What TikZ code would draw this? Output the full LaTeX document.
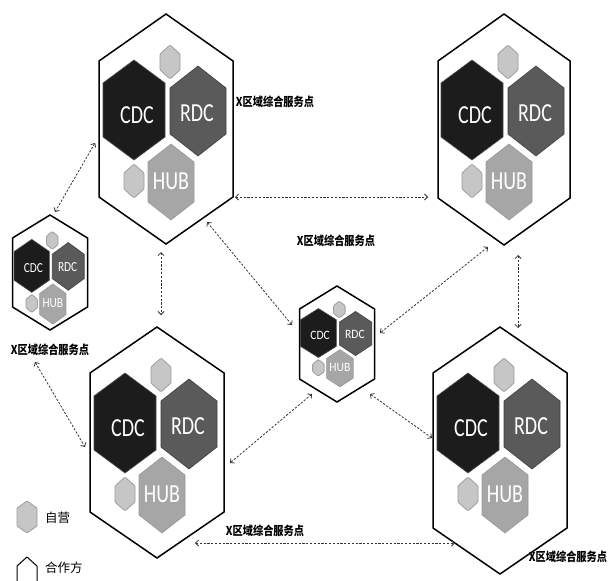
\documentclass[tikz,border=0pt]{standalone}
\usepackage{fontspec}
\setmainfont{Carlito}
\newfontfamily\cjk{Noto Sans CJK SC}
\usetikzlibrary{arrows.meta}
\definecolor{cdcc}{HTML}{1C1C1C}
\definecolor{rdcc}{HTML}{5A5A5A}
\definecolor{hubc}{HTML}{A6A6A6}
\definecolor{ownc}{HTML}{C6C6C6}
\tikzset{
  outerhex/.style={draw=black,line width=1.5pt,line join=miter,fill=white},
  cdchex/.style={fill=cdcc,draw=black!70,line width=0.6pt},
  rdchex/.style={fill=rdcc,draw=black!75,line width=0.6pt},
  hubhex/.style={fill=hubc,draw=black!40,line width=0.6pt},
  ownhex/.style={fill=ownc,draw=black!38,line width=0.8pt,rounded corners=1pt},
  hextext/.style={text=white,font=\fontsize{20}{20}\selectfont,yscale=1.3,transform shape,inner sep=0pt},
  zlabel/.style={font=\cjk\bfseries\fontsize{10.2}{12}\selectfont,yscale=1.2,inner sep=0pt},
  legtext/.style={font=\cjk\fontsize{12.5}{14}\selectfont,inner sep=0pt},
  link/.style={draw=black!80,line width=0.8pt,dash pattern=on 2.2pt off 1.6pt,
    {Straight Barb[length=3pt,width=6pt]}-{Straight Barb[length=3pt,width=6pt]}},
}
% inner hexagon: style, cx, cy, half width, half side, half height
\newcommand\ihex[6]{\path[#1,shift={(#2,#3)}] (0,-#6) -- (#4,-#5) -- (#4,#5) -- (0,#6) -- (-#4,#5) -- (-#4,-#5) -- cycle;}
% group: name, top x, top y, half width, shoulder, height, xscale, yscale
\newcommand\hexgrp[8]{%
  \begin{scope}[shift={(#2,#3)}]
    \path[outerhex] (0,0) -- (#4,#5) -- (#4,{#6-#5}) -- (0,#6) -- (-#4,{#6-#5}) -- (-#4,#5) -- cycle;
    \begin{scope}[xscale=#7,yscale=#8]
      \ihex{cdchex}{-32}{96}{31}{27}{50}
      \ihex{rdchex}{32}{97}{28}{23}{45}
      \ihex{hubhex}{5}{168}{23}{20}{38}
      \ihex{ownhex}{4}{48}{10}{8}{17}
      \ihex{ownhex}{-32}{167}{10}{8}{17}
      \node[hextext] (#1cdc) at (-29,101) {CDC};
      \node[hextext] (#1rdc) at (31,99) {RDC};
      \node[hextext] (#1hub) at (5,167) {HUB};
    \end{scope}
  \end{scope}}
\begin{document}
\begin{tikzpicture}[x=1pt,y=-1pt]
\useasboundingbox (0,0) rectangle (608,581);
\fill[white] (0,0) rectangle (608,581);

\hexgrp{tl}{166}{14}{67}{47}{230}{1}{1}
\hexgrp{tr}{504}{14}{66}{47}{231}{1}{1}
\hexgrp{bl}{157}{327}{67}{46}{231}{1}{1}
\hexgrp{br}{500}{327}{67}{46}{247}{1}{1}
\hexgrp{l}{50}{215}{37.5}{23}{115}{0.57}{0.53}
\hexgrp{c}{337}{286}{37.5}{23}{116}{0.58}{0.49}

% labels
\node[zlabel] (lab1) at (275,102) {X区域综合服务点};
\node[zlabel] (lab2) at (336,241) {X区域综合服务点};
\node[zlabel] (lab3) at (50,350) {X区域综合服务点};
\node[zlabel] (lab4) at (265,531) {X区域综合服务点};
\node[zlabel] (lab5) at (568,557) {X区域综合服务点};

% legend
\ihex{ownhex}{27}{517}{10}{9}{16}
\node[legtext,anchor=west] (own) at (45,518) {自营};
\path[draw=black,line width=1pt,shift={(27,570)}] (0,-13) -- (10,-4) -- (10,20) -- (0,28) -- (-10,20) -- (-10,-4) -- cycle;
\node[legtext,anchor=west] (part) at (45,568) {合作方};

% connector end points
\coordinate (c1a) at (95,143);  \coordinate (c1b) at (55,212);
\coordinate (c2a) at (235,197); \coordinate (c2b) at (428,197);
\coordinate (c3a) at (161,252); \coordinate (c3b) at (161,315);
\coordinate (c4a) at (207,222); \coordinate (c4b) at (292,325);
\coordinate (c5a) at (488,247); \coordinate (c5b) at (380,333);
\coordinate (c6a) at (518,255); \coordinate (c6b) at (518,328);
\coordinate (c7a) at (35,362);  \coordinate (c7b) at (85,447);
\coordinate (c8a) at (312,394); \coordinate (c8b) at (230,463);
\coordinate (c9a) at (370,394); \coordinate (c9b) at (432,438);
\coordinate (c10a) at (195,543); \coordinate (c10b) at (455,543);

\draw[link] (c1a) -- (c1b);
\draw[link] (c2a) -- (c2b);
\draw[link] (c3a) -- (c3b);
\draw[link] (c4a) -- (c4b);
\draw[link] (c5a) -- (c5b);
\draw[link] (c6a) -- (c6b);
\draw[link] (c7a) -- (c7b);
\draw[link] (c8a) -- (c8b);
\draw[link] (c9a) -- (c9b);
\draw[link] (c10a) -- (c10b);
\end{tikzpicture}
\end{document}
